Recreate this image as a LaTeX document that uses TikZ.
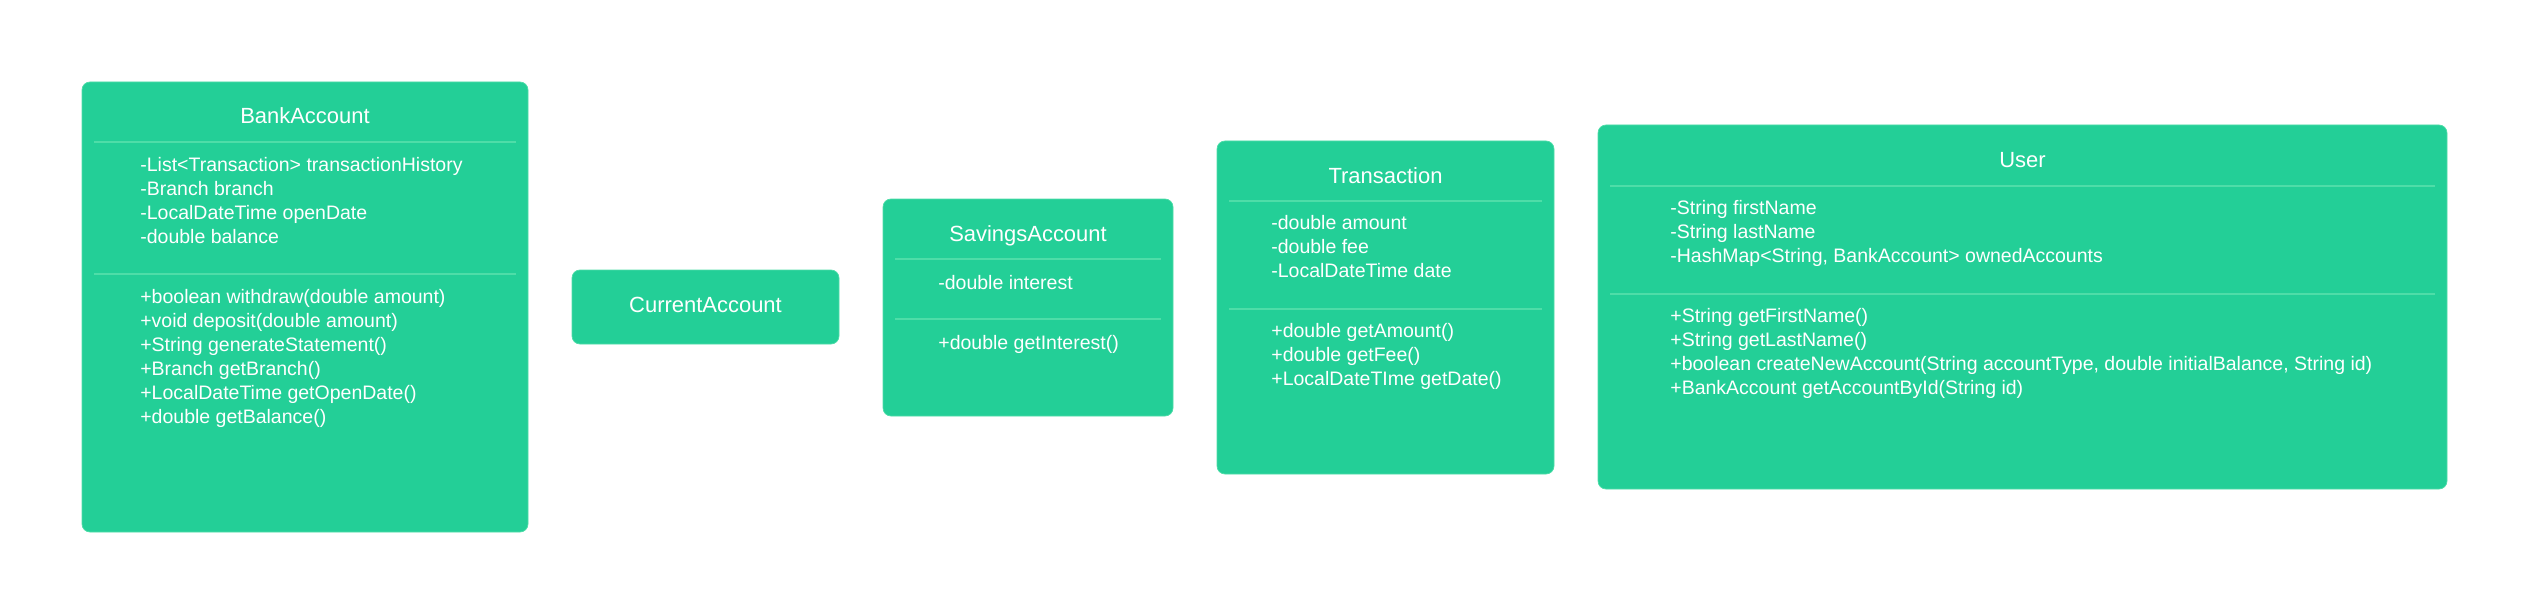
\documentclass[tikz,border=0pt]{standalone}
\usepackage{fontspec}
\setmainfont{Liberation Sans}
\usetikzlibrary{positioning}
\definecolor{classgreen}{RGB}{35,207,151}
\definecolor{rulegreen}{RGB}{78,221,168}

\begin{document}
\begin{tikzpicture}[x=0.02cm,y=-0.02cm,
  classbox/.style={fill=classgreen,draw=rulegreen,line width=0.4pt,rounded corners=0.16cm},
  divider/.style={draw=rulegreen,line width=1pt},
  classname/.style={font=\fontsize{12.5}{15}\selectfont,text=white,inner sep=0pt,anchor=base},
  members/.style={font=\fontsize{11.1}{13.66}\selectfont,text=white,align=left,anchor=north west,inner sep=0pt}]
\useasboundingbox (0,0) rectangle (2529,615);

% BankAccount
\draw[classbox] (82,82) rectangle (528,532);
\node[classname] (bankName) at (305,124) {BankAccount};
\draw[divider] (94,142) -- (516,142);
\node[members] (bankAttrs) at (140,157) {-List<Transaction> transactionHistory\\-Branch branch\\-LocalDateTime openDate\\-double balance};
\draw[divider] (94,274) -- (516,274);
\node[members] (bankOps) at (140,289) {+boolean withdraw(double amount)\\+void deposit(double amount)\\+String generateStatement()\\+Branch getBranch()\\+LocalDateTime getOpenDate()\\+double getBalance()};

% CurrentAccount
\draw[classbox] (572,270) rectangle (839,344);
\node[classname] (currentName) at (705.5,312) {CurrentAccount};

% SavingsAccount
\draw[classbox] (883,199) rectangle (1173,416);
\node[classname] (savingsName) at (1028,241) {SavingsAccount};
\draw[divider] (895,259) -- (1161,259);
\node[members] (savingsAttrs) at (938,275) {-double interest};
\draw[divider] (895,319) -- (1161,319);
\node[members] (savingsOps) at (938,335) {+double getInterest()};

% Transaction
\draw[classbox] (1217,141) rectangle (1554,474);
\node[classname] (transName) at (1385.5,183) {Transaction};
\draw[divider] (1229,201) -- (1542,201);
\node[members] (transAttrs) at (1271,215) {-double amount\\-double fee\\-LocalDateTime date};
\draw[divider] (1229,309) -- (1542,309);
\node[members] (transOps) at (1271,323) {+double getAmount()\\+double getFee()\\+LocalDateTIme getDate()};

% User
\draw[classbox] (1598,125) rectangle (2447,489);
\node[classname] (userName) at (2022.5,168) {User};
\draw[divider] (1610,186) -- (2435,186);
\node[members] (userAttrs) at (1670,200) {-String firstName\\-String lastName\\-HashMap<String, BankAccount> ownedAccounts};
\draw[divider] (1610,294) -- (2435,294);
\node[members] (userOps) at (1670,308) {+String getFirstName()\\+String getLastName()\\+boolean createNewAccount(String accountType, double initialBalance, String id)\\+BankAccount getAccountById(String id)};

\end{tikzpicture}
\end{document}
